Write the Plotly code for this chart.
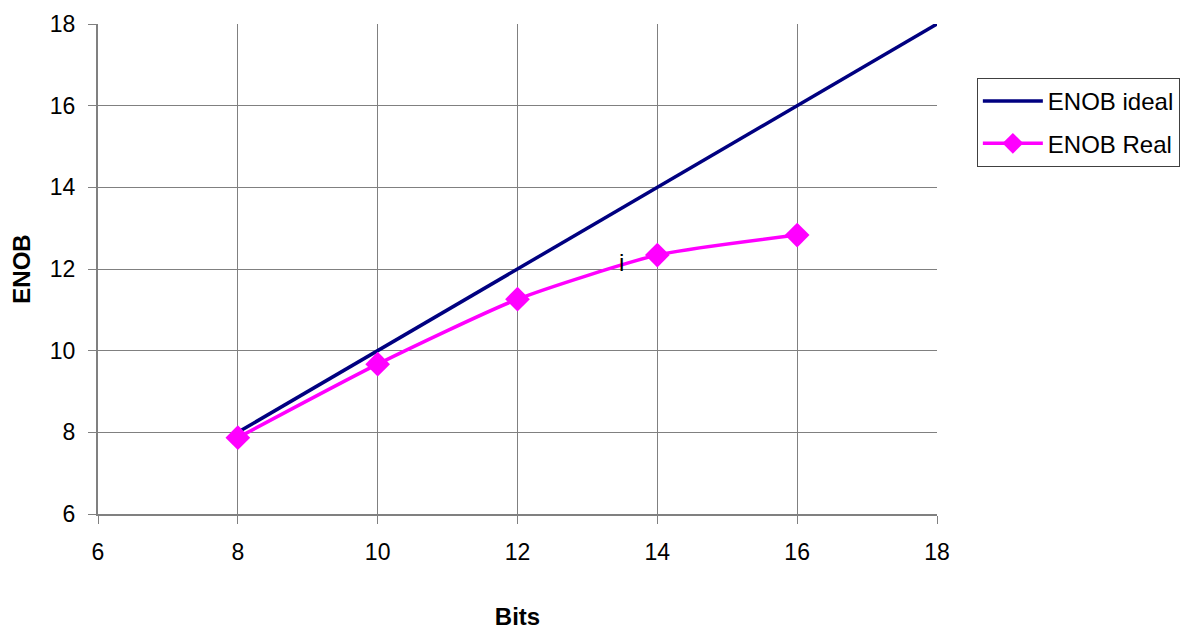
import plotly.graph_objects as go

bits_ideal = [8, 10, 12, 14, 16, 18]
enob_ideal = [8, 10, 12, 14, 16, 18]
bits_real = [8, 10, 12, 14, 16]
enob_real = [7.87, 9.67, 11.26, 12.34, 12.83]
note_x, note_y, note_text = 13.49, 12.17, "i"

fig = go.Figure()
fig.add_trace(go.Scatter(x=bits_ideal, y=enob_ideal, mode="lines", name="ENOB ideal",
                         legendgroup="a",
                         line=dict(color="#000080", width=3.5)))
fig.add_trace(go.Scatter(x=bits_real, y=enob_real, mode="lines+markers", name="ENOB Real",
                         legendgroup="b",
                         line=dict(color="#FF00FF", width=3.5, shape="spline", smoothing=0.6),
                         marker=dict(symbol="diamond", size=19, color="#FF00FF")))
fig.add_annotation(x=note_x, y=note_y, text=note_text, showarrow=False,
                   font=dict(size=24, color="black", family="Liberation Sans, Arial"))

axis_common = dict(showgrid=True, gridcolor="#808080", gridwidth=1,
                   showline=True, linecolor="#808080", linewidth=2,
                   ticks="outside", ticklen=8, tickcolor="#808080",
                   tickfont=dict(size=23, color="black"), zeroline=False, dtick=2,
                   ticklabelstandoff=8, automargin=False)
fig.update_xaxes(range=[6, 18], tick0=6,
                 title=dict(text="<b>Bits</b>", font=dict(size=24, color="black"), standoff=47),
                 **axis_common)
fig.update_yaxes(range=[6, 18], tick0=6,
                 title=dict(text="<b>ENOB</b>", font=dict(size=24, color="black"), standoff=14),
                 **axis_common)

fig.update_layout(
    width=1194, height=622,
    margin=dict(l=90, r=265, t=16, b=116, autoexpand=False),
    plot_bgcolor="white", paper_bgcolor="white",
    font=dict(family="Liberation Sans, Arial", color="black"),
    legend=dict(x=1.0475, y=0.8898, xanchor="left", yanchor="top",
                bordercolor="#404040", borderwidth=1, bgcolor="white",
                font=dict(size=24, color="black"), itemwidth=60,
                traceorder="grouped", tracegroupgap=8),
    showlegend=True,
)
fig.write_html("out.html")
